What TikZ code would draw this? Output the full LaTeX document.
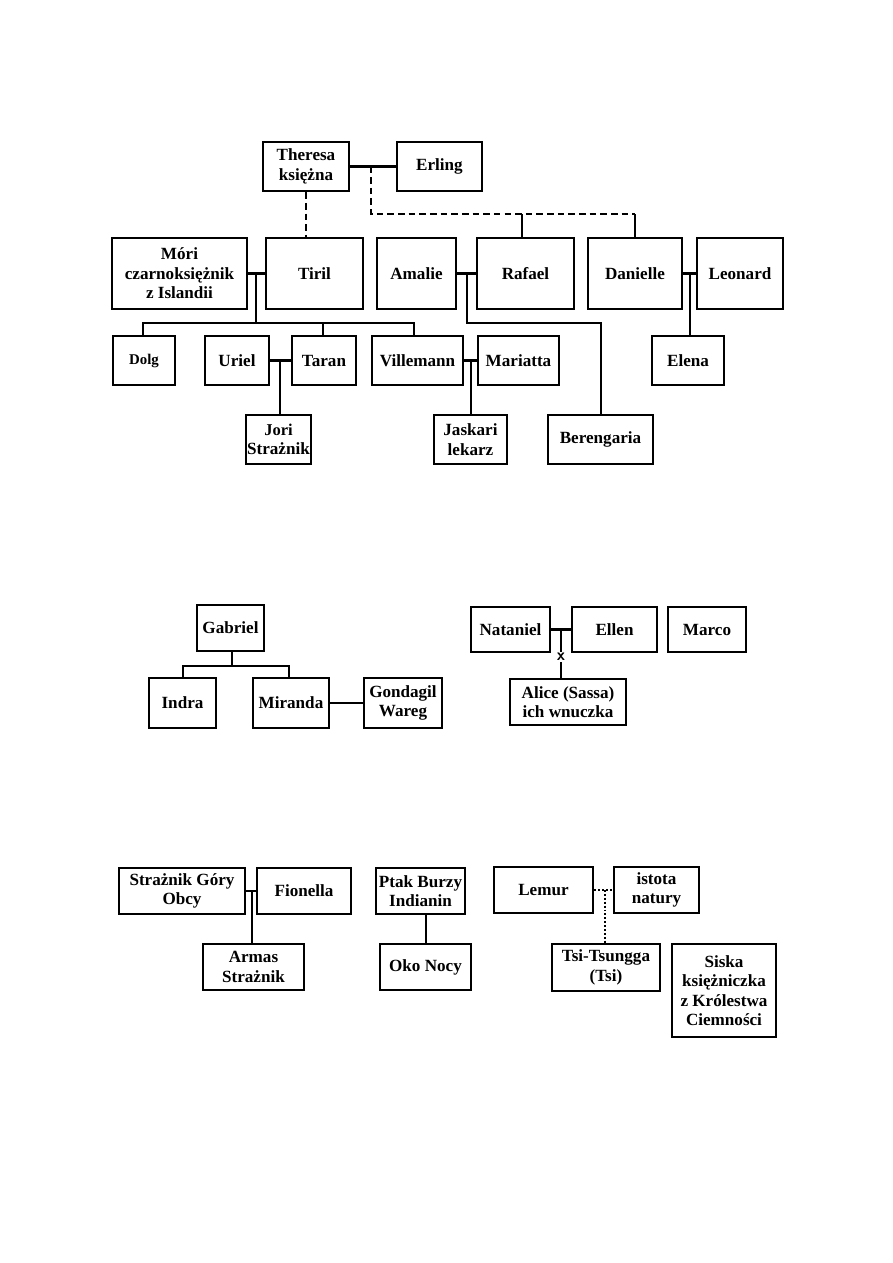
\documentclass[tikz,border=0pt]{standalone}
\usepackage{fontspec}
\setmainfont{Liberation Serif}
\newcommand\bx[6]{\node[box,minimum width={(#4-#2)*0.6667pt},minimum height={(#5-#3)*0.6667pt}] (#1) at ({(#2+#4)/2},{(#3+#5)/2}) {#6};}
\begin{document}
\begin{tikzpicture}[x=0.6667pt,y=-0.6667pt,
  box/.style={draw,line width=1.7pt,align=center,inner sep=0pt,font=\fontsize{11.4}{13}\selectfont\bfseries},
  conn/.style={line width=1.6pt},
  dsh/.style={conn,dash pattern=on 4.4pt off 2.7pt},
  dts/.style={conn,dash pattern=on 1.3pt off 1.3pt}]
\useasboundingbox (0,0) rectangle (893,1263);
% top family
\bx{theresa}{263}{142}{349}{191}{Theresa\\księżna}
\bx{erling}{397}{142}{482}{191}{Erling}
\bx{mori}{112}{238}{247}{309}{Móri\\czarnoksiężnik\\z Islandii}
\bx{tiril}{266}{238}{363}{309}{Tiril}
\bx{amalie}{377}{238}{456}{309}{Amalie}
\bx{rafael}{477}{238}{574}{309}{Rafael}
\bx{danielle}{588}{238}{682}{309}{Danielle}
\bx{leonard}{697}{238}{783}{309}{Leonard}
\bx{dolg}{113}{336}{175}{385}{\fontsize{9.9}{11}\selectfont Dolg}
\bx{uriel}{205}{336}{269}{385}{Uriel}
\bx{taran}{292}{336}{356}{385}{Taran}
\bx{villemann}{372}{336}{463}{385}{Villemann}
\bx{mariatta}{478}{336}{559}{385}{Mariatta}
\bx{elena}{652}{336}{724}{385}{Elena}
\bx{jori}{246}{415}{311}{464}{\fontsize{11}{13}\selectfont Jori\\Strażnik}
\bx{jaskari}{434}{415}{507}{464}{Jaskari\\lekarz}
\bx{berengaria}{548}{415}{653}{464}{Berengaria}
% middle
\bx{gabriel}{197}{605}{264}{651}{Gabriel}
\bx{indra}{149}{678}{216}{728}{Indra}
\bx{miranda}{253}{678}{329}{728}{Miranda}
\bx{gondagil}{364}{678}{442}{728}{Gondagil\\Wareg}
\bx{nataniel}{471}{607}{550}{652}{Nataniel}
\bx{ellen}{572}{607}{657}{652}{Ellen}
\bx{marco}{668}{607}{746}{652}{Marco}
\bx{alice}{510}{679}{626}{725}{Alice (Sassa)\\ich wnuczka}
% bottom
\bx{straznik}{119}{868}{245}{914}{Strażnik Góry\\Obcy}
\bx{fionella}{257}{868}{351}{914}{Fionella}
\bx{armas}{203}{944}{304}{990}{Armas\\Strażnik}
\bx{ptak}{376}{868}{465}{914}{Ptak Burzy\\Indianin}
\bx{oko}{380}{944}{471}{990}{Oko Nocy}
\bx{lemur}{494}{867}{593}{913}{Lemur}
\bx{istota}{614}{867}{699}{913}{istota\\natury}
\bx{tsi}{552}{944}{660}{991}{Tsi-Tsungga\\(Tsi)}
\bx{siska}{672}{944}{776}{1037}{Siska\\księżniczka\\z Królestwa\\Ciemności}
% connectors top
\draw[conn] (theresa) -- (erling);
\coordinate (te) at (371,166.5);
\coordinate (dj) at (635,214);
\coordinate (rj) at (522,214);
\draw[dsh] (te) |- (dj);
\draw[conn] (dj) -- (dj |- danielle.north);
\draw[conn] (rj) -- (rj |- rafael.north);
\draw[dsh] (theresa.south) -- (theresa.south |- tiril.north);
\draw[conn] (mori) -- (tiril);
\coordinate (mt) at (256,273.5);
\coordinate (mtk) at (256,323);
\draw[conn] (mt) -- (mtk);
\coordinate (kL) at (143,323);
\coordinate (kR) at (414,323);
\coordinate (kT) at (323,323);
\draw[conn] (kL |- dolg.north) -- (kL) -- (kR) -- (kR |- villemann.north);
\draw[conn] (kT) -- (kT |- taran.north);
\draw[conn] (amalie) -- (rafael);
\coordinate (ar) at (467,273.5);
\coordinate (ab) at (601,323);
\draw[conn] (ar) |- (ab) -- (ab |- berengaria.north);
\draw[conn] (danielle) -- (leonard);
\coordinate (dl) at (690,273.5);
\draw[conn] (dl) -- (dl |- elena.north);
\draw[conn] (uriel) -- (taran);
\coordinate (ut) at (280,360.5);
\draw[conn] (ut) -- (ut |- jori.north);
\draw[conn] (villemann) -- (mariatta);
\coordinate (vm) at (471,360.5);
\draw[conn] (vm) -- (vm |- jaskari.north);
% middle connectors
\coordinate (gb) at (232,666);
\draw[conn] (gb |- gabriel.south) -- (gb);
\coordinate (gL) at (183,666);
\coordinate (gR) at (289,666);
\draw[conn] (gL |- indra.north) -- (gL) -- (gR) -- (gR |- miranda.north);
\draw[conn] (miranda) -- (gondagil);
\draw[conn] (nataniel) -- (ellen);
\coordinate (ne) at (561,629.5);
\draw[conn] (ne) -- (ne |- alice.north);
\node[fill=white,inner sep=0.8pt,font=\fontsize{11}{11}\selectfont\sffamily\bfseries] (xmark) at (561,657) {x};
% bottom connectors
\draw[conn] (straznik) -- (fionella);
\coordinate (sf) at (252,891);
\draw[conn] (sf) -- (sf |- armas.north);
\coordinate (po) at (426,914);
\draw[conn] (po |- ptak.south) -- (po |- oko.north);
\draw[dts] (lemur) -- (istota);
\coordinate (li) at (605,890);
\draw[dts] (li) -- (li |- tsi.north);
\end{tikzpicture}
\end{document}
